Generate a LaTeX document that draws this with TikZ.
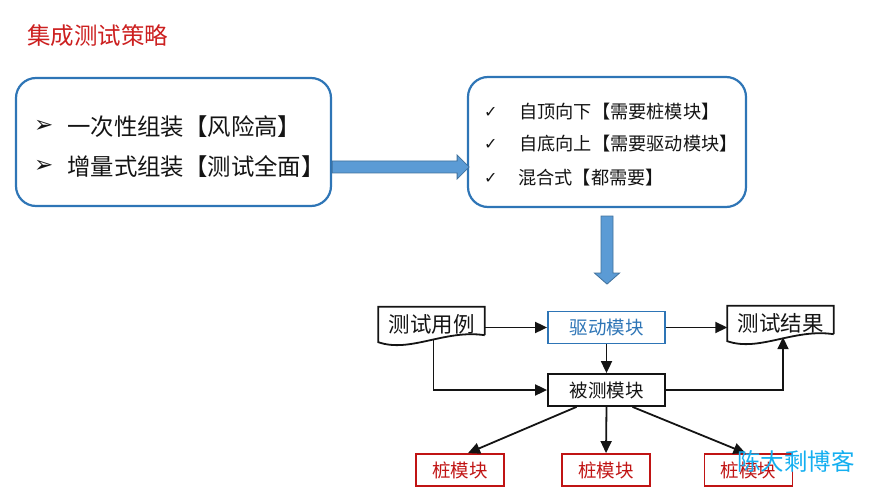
\documentclass[tikz,border=0pt]{standalone}
\usepackage{fontspec}
\setmainfont{Noto Sans CJK SC}
\newfontfamily\symfont{DejaVu Sans}
\usetikzlibrary{arrows.meta}
\definecolor{boxblue}{RGB}{46,117,182}
\definecolor{fatblue}{RGB}{91,155,213}
\definecolor{fatedge}{RGB}{65,113,156}
\definecolor{stubred}{RGB}{192,20,20}
\definecolor{titlered}{RGB}{204,32,32}
\definecolor{markblue}{RGB}{20,175,240}
\definecolor{ink}{RGB}{20,20,20}
\tikzset{%
    rbox/.style={rectangle, draw=boxblue, line width=2.2pt, rounded corners=20pt, inner sep=0pt},
    fat/.style={draw=fatedge, fill=fatblue, line width=0.8pt},
    big/.style={anchor=west, inner sep=0pt, text=ink, font=\fontsize{23.4}{25}\selectfont},
    small/.style={anchor=west, inner sep=0pt, text=ink, font=\fontsize{18.2}{20}\selectfont},
    tick/.style={anchor=west, inner sep=0pt, text=ink, font=\symfont\fontsize{16}{18}\selectfont},
    arrowhd/.style={anchor=west, inner sep=0pt, text=ink, font=\symfont\fontsize{23}{25}\selectfont},
    blk/.style={rectangle, draw=ink, text=ink, line width=1.8pt, minimum width=117pt, minimum height=32pt, inner sep=0pt, font=\fontsize{18.5}{20}\selectfont},
    drv/.style={blk, draw=boxblue, text=boxblue},
    stub/.style={rectangle, draw=stubred, text=stubred, line width=1.8pt, minimum width=88pt, minimum height=32pt, inner sep=0pt, font=\fontsize{18.5}{20}\selectfont},
    doc/.style={rectangle, text=ink, minimum width=106pt, minimum height=35pt, inner sep=0pt, font=\fontsize{21.5}{23}\selectfont},
    con/.style={line width=1.8pt, draw=ink, -{Triangle[length=12pt, width=11pt]}},
}
\newcommand{\drawdoc}[1]{%
    \draw[line width=1.8pt, draw=ink] ([yshift=7pt]#1.south east) -- (#1.north east) -- (#1.north west) -- (#1.south west)
        .. controls ([xshift=32pt,yshift=-11pt]#1.south west) and ([xshift=-40pt,yshift=13pt]#1.south east) .. ([yshift=7pt]#1.south east);}

\begin{document}
\begin{tikzpicture}[x=1pt,y=-1pt]
    \useasboundingbox (0,0) rectangle (877,502);
    \node[anchor=west, inner sep=0pt, text=titlered, font=\fontsize{23.5}{25}\selectfont] (title) at (27,36) {集成测试策略};

    \node[rbox, minimum width=315pt, minimum height=128pt] (bigbang) at (173.5,142) {};
    \node[arrowhd] (m1) at (34,126) {➢};
    \node[big] (l1) at (67,127) {一次性组装【风险高】};
    \node[arrowhd] (m2) at (34,166) {➢};
    \node[big] (l2) at (67,167) {增量式组装【测试全面】};

    \node[rbox, minimum width=278pt, minimum height=130pt] (approach) at (607,142) {};
    \node[tick] (c1) at (484,112) {✓};
    \node[small] (t1) at (519,112) {自顶向下【需要桩模块】};
    \node[tick] (c2) at (484,144) {✓};
    \node[small] (t2) at (519,144) {自底向上【需要驱动模块】};
    \node[tick] (c3) at (484,178) {✓};
    \node[small] (t3) at (518,178) {混合式【都需要】};

    \path (bigbang.east) ++(0,25) coordinate (fa);
    \draw[fat] (fa) ++(0,-6) -- ++(125,0) -- ++(0,-6) -- ++(12,12) -- ++(-12,12) -- ++(0,-6) -- ++(-125,0) -- cycle;
    \draw[fat] (approach.south) ++(-6,8) -- ++(12,0) -- ++(0,57) -- ++(6.5,0) -- ++(-12.5,11) -- ++(-12.5,-11) -- ++(6.5,0) -- cycle;

    \node[doc] (case) at (431.5,324.5) {测试用例};
    \drawdoc{case}
    \node[doc] (result) at (780.5,323.5) {测试结果};
    \drawdoc{result}
    \node[drv] (driver) at (606.5,327.5) {驱动模块};
    \node[blk] (target) at (606.5,390) {被测模块};
    \node[stub] (stubA) at (460,470) {桩模块};
    \node[stub] (stubB) at (606,470) {桩模块};
    \node[stub] (stubC) at (748.5,470) {桩模块};

    \draw[con] (case.east |- driver) -- (driver.west);
    \draw[con] (driver.east) -- (result.west |- driver);
    \draw[con] (driver.south) -- (target.north);
    \draw[con] ([xshift=2pt,yshift=2pt]case.south) |- (target.west);
    \draw[con] (target.east) -| ([xshift=2.5pt,yshift=4pt]result.south);
    \draw[con] ([xshift=-30pt]target.south) -- ([xshift=8pt]stubA.north);
    \draw[con] (target.south) -- (stubB.north);
    \draw[con] ([xshift=26pt]target.south) -- ([xshift=-3pt]stubC.north);

    \node[anchor=west, inner sep=0pt, text=markblue, font=\fontsize{23.5}{25}\selectfont] (blog) at (737,461) {陈大剩博客};
\end{tikzpicture}
\end{document}
